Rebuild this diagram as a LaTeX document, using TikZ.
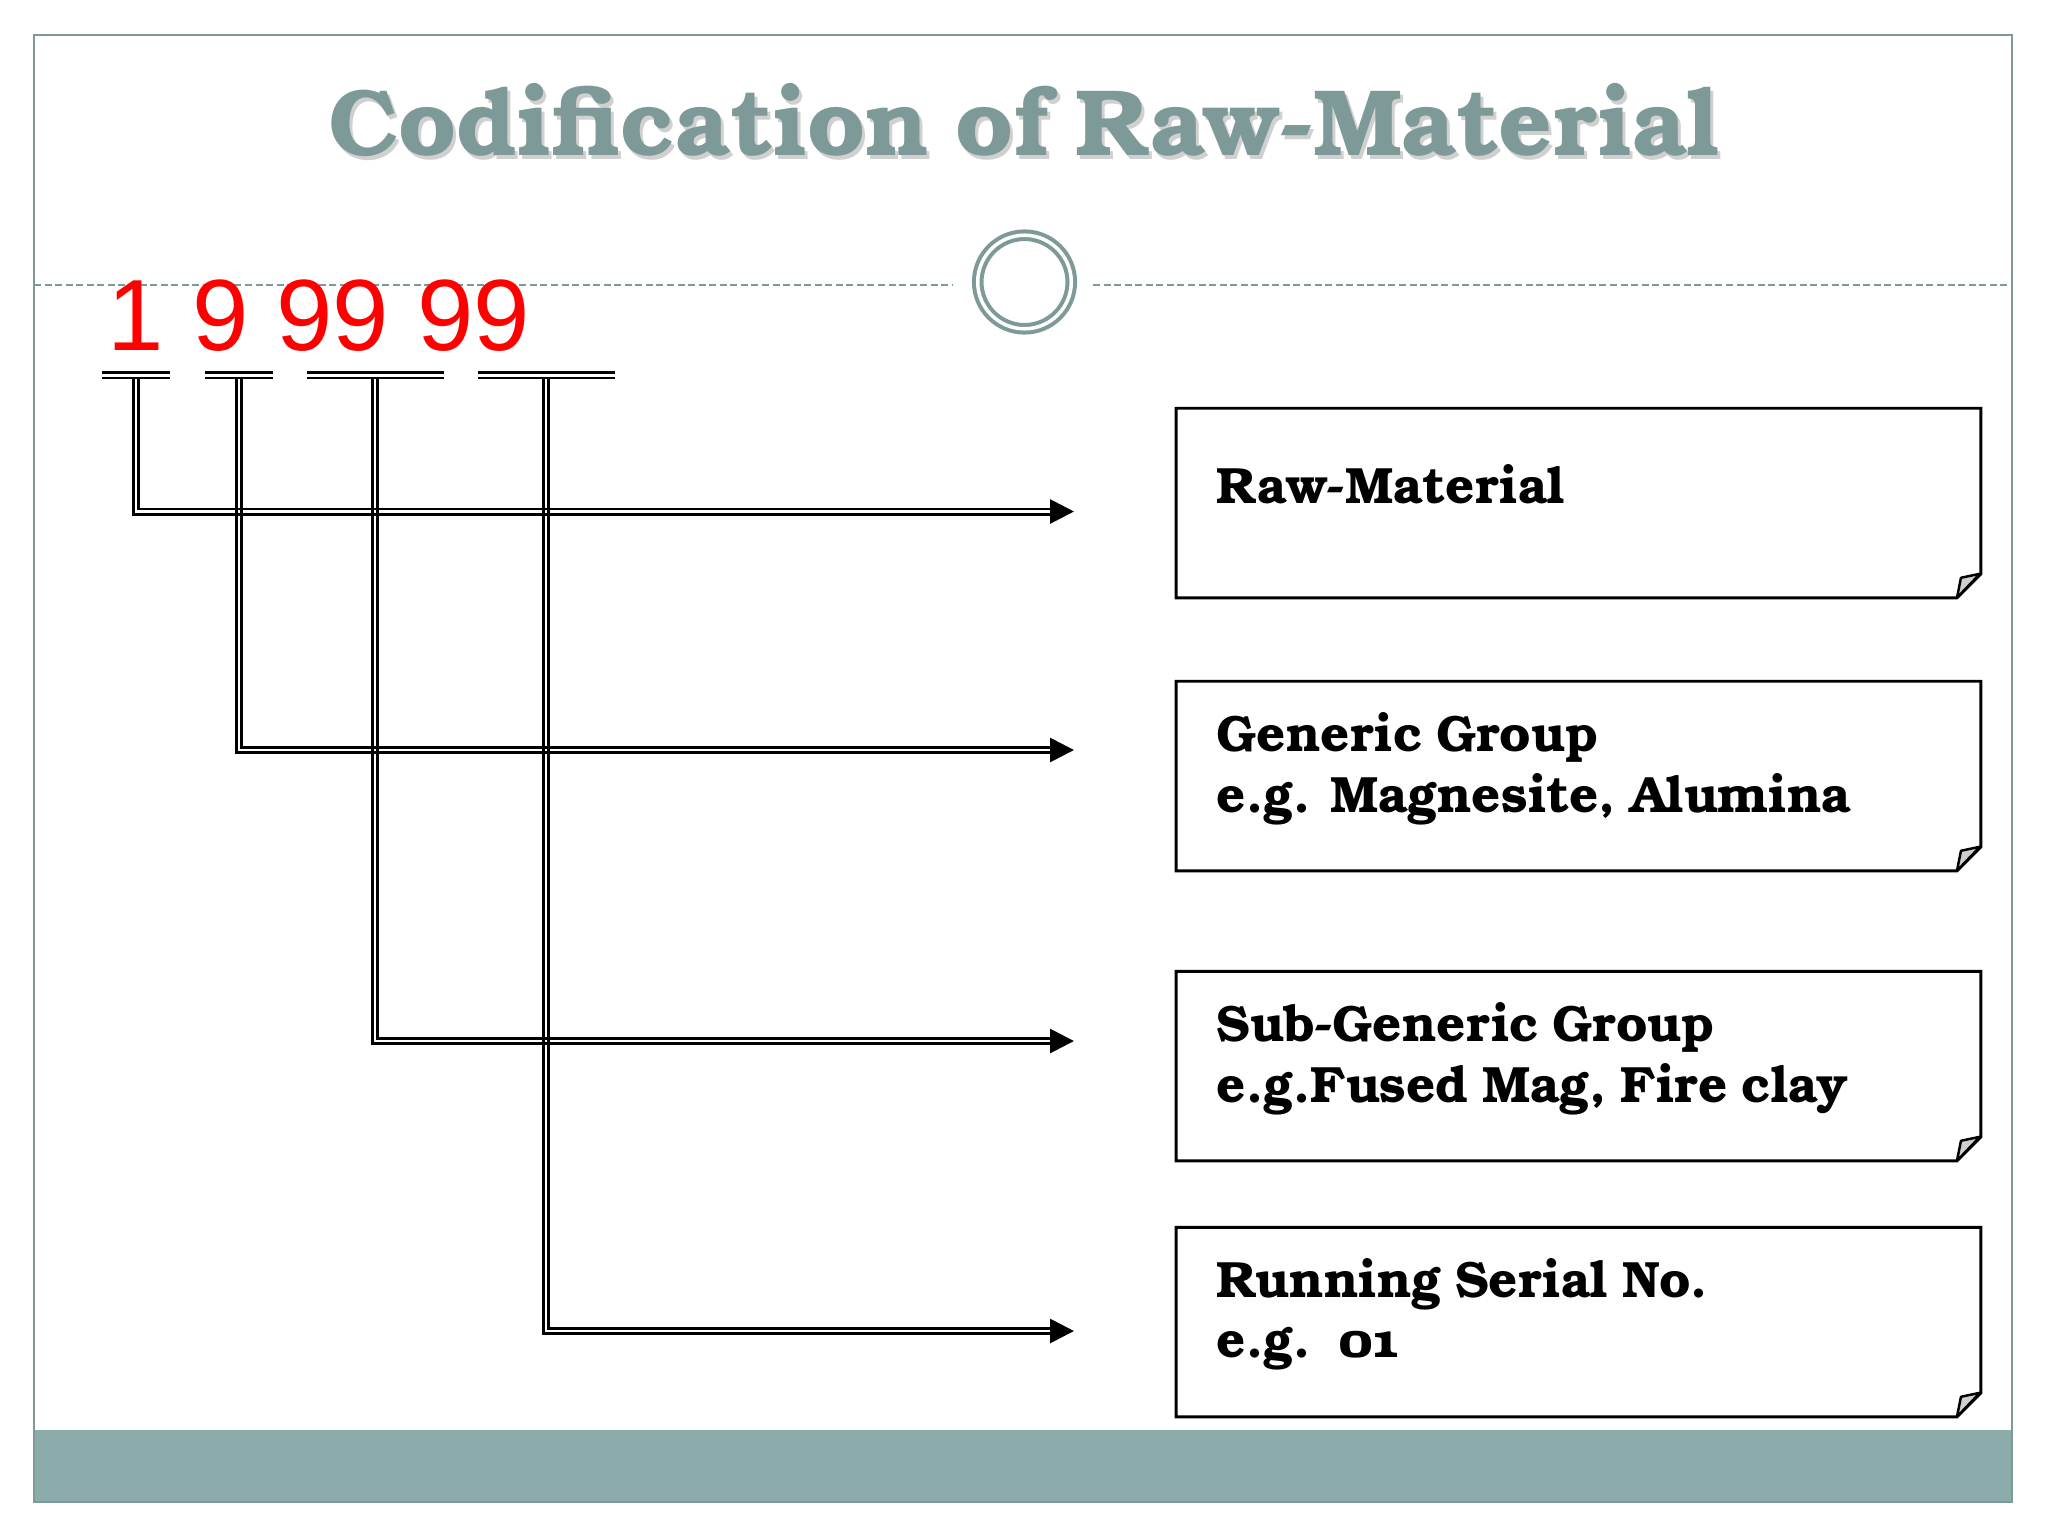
\documentclass[tikz,border=0pt]{standalone}
\usepackage{fontspec}
\setmainfont{Liberation Sans}
\newfontfamily\bookfont{TeX Gyre Bonum}[Numbers=OldStyle,WordSpace=0.8]
\usetikzlibrary{calc}
\usetikzlibrary{shapes,arrows.meta}

\definecolor{slate}{HTML}{7D9A98}
\definecolor{slatebar}{HTML}{8CACAC}
\definecolor{foldgray}{HTML}{CFCFCF}

\begin{document}
\begin{tikzpicture}[x=0.01cm,y=-0.01cm,
    rail/.style={line width=0.8pt},
    head/.style={line width=0.8pt,-{Triangle[length=6.8pt,width=6.8pt]}},
    box/.style={minimum width=8.03cm,minimum height=1.88cm,inner sep=0pt},
    outline/.style={line width=0.85pt,line join=miter},
    fold/.style={fill=foldgray,draw=black,line width=0.7pt,line join=round},
    lbl/.style={anchor=base west,inner sep=0pt,font=\bookfont\bfseries\fontsize{14.5pt}{17pt}\selectfont}]

    \useasboundingbox (0,0) rectangle (2048,1536);
    \fill[white] (0,0) rectangle (2048,1536);

    % slide frame and footer band
    \fill[slatebar] (34,1430) rectangle (2012,1502);
    \draw[slate,line width=0.7pt] (34,35) rectangle (2012,1502);

    % title
    \node[anchor=base,inner sep=0pt,gray!60,opacity=0.6,
          font=\bookfont\bfseries\fontsize{26.8pt}{30pt}\selectfont] (tshadow) at (1027,159) {Codification of Raw-Material};
    \node[anchor=base,inner sep=0pt,slate,
          font=\bookfont\bfseries\fontsize{26.8pt}{30pt}\selectfont] (title) at (1024,155) {Codification of Raw-Material};

    % ring on the dashed rule
    \node[circle,draw=slate,line width=1.15pt,double=white,double distance=1pt,
          minimum size=0.935cm,inner sep=0pt] (ring) at (1024.5,282) {};
    \coordinate (R0) at (34,285);
    \coordinate (R1) at (953,285);
    \coordinate (R2) at (1093,285);
    \coordinate (R3) at (2012,285);
    \draw[slate,line width=0.7pt,dash pattern=on 2pt off 1pt] (R0) -- (R1);
    \draw[slate,line width=0.7pt,dash pattern=on 2pt off 1pt] (R2) -- (R3);

    % the code
    \node[anchor=base west,inner sep=0pt,red,font=\fontsize{28.8pt}{31pt}\selectfont] (code) at (107,350) {1 9 99 99};

    \draw[rail] (102,372.7) -- (170,372.7);
    \draw[rail] (102,378) -- (170,378);
    \draw[rail] (205,372.7) -- (273,372.7);
    \draw[rail] (205,378) -- (273,378);
    \draw[rail] (307,372.7) -- (444,372.7);
    \draw[rail] (307,378) -- (444,378);
    \draw[rail] (478,372.7) -- (615,372.7);
    \draw[rail] (478,378) -- (615,378);

    \coordinate (U1) at (136,378);
    \coordinate (U2) at (239,378);
    \coordinate (U3) at (375,378);
    \coordinate (U4) at (546,378);

    \coordinate (H1) at (1052,511.5);
    \coordinate (H2) at (1052,750);
    \coordinate (H3) at (1052,1041);
    \coordinate (H4) at (1052,1331);

    \coordinate (T1) at (1074,511.5);
    \coordinate (T2) at (1074,750);
    \coordinate (T3) at (1074,1041);
    \coordinate (T4) at (1074,1331);

    % boxes
    \node[box] (B1) at (1578.5,503) {};
    \node[box] (B2) at (1578.5,776) {};
    \node[box] (B3) at (1578.5,1066) {};
    \node[box] (B4) at (1578.5,1322) {};

    \draw[outline] (B1.south west) -- (B1.north west) -- (B1.north east) -- ($(B1.south east)+(0,-24)$) -- ($(B1.south east)+(-24,0)$) -- cycle;
    \draw[outline] (B2.south west) -- (B2.north west) -- (B2.north east) -- ($(B2.south east)+(0,-24)$) -- ($(B2.south east)+(-24,0)$) -- cycle;
    \draw[outline] (B3.south west) -- (B3.north west) -- (B3.north east) -- ($(B3.south east)+(0,-24)$) -- ($(B3.south east)+(-24,0)$) -- cycle;
    \draw[outline] (B4.south west) -- (B4.north west) -- (B4.north east) -- ($(B4.south east)+(0,-24)$) -- ($(B4.south east)+(-24,0)$) -- cycle;

    \filldraw[fold] ($(B1.south east)+(-1,-24)$) -- ($(B1.south east)+(-20,-20)$) -- ($(B1.south east)+(-24,0)$) -- cycle;
    \filldraw[fold] ($(B2.south east)+(-1,-24)$) -- ($(B2.south east)+(-20,-20)$) -- ($(B2.south east)+(-24,0)$) -- cycle;
    \filldraw[fold] ($(B3.south east)+(-1,-24)$) -- ($(B3.south east)+(-20,-20)$) -- ($(B3.south east)+(-24,0)$) -- cycle;
    \filldraw[fold] ($(B4.south east)+(-1,-24)$) -- ($(B4.south east)+(-20,-20)$) -- ($(B4.south east)+(-24,0)$) -- cycle;

    \node[lbl] (L1) at (1216,503) {Raw-Material};
    \node[lbl] (L2) at (1216,751) {Generic Group};
    \node[lbl] (L2e) at (1216,812) {e.g. Magnesite, Alumina};
    \node[lbl] (L3) at (1216,1041) {Sub-Generic Group};
    \node[lbl] (L3e) at (1216,1102) {e.g.Fused Mag, Fire clay};
    \node[lbl] (L4) at (1216,1297) {Running Serial No.};
    \node[lbl] (L4e) at (1216,1357) {e.g.\ \ 01};

    % double connectors
    \draw[rail] ($(U1)+(-2.6,0)$) |- ($(H1)+(0,2.6)$);
    \draw[rail] ($(U1)+(2.6,0)$) |- ($(H1)+(0,-2.6)$);
    \draw[rail] ($(U2)+(-2.6,0)$) |- ($(H2)+(0,2.6)$);
    \draw[rail] ($(U2)+(2.6,0)$) |- ($(H2)+(0,-2.6)$);
    \draw[rail] ($(U3)+(-2.6,0)$) |- ($(H3)+(0,2.6)$);
    \draw[rail] ($(U3)+(2.6,0)$) |- ($(H3)+(0,-2.6)$);
    \draw[rail] ($(U4)+(-2.6,0)$) |- ($(H4)+(0,2.6)$);
    \draw[rail] ($(U4)+(2.6,0)$) |- ($(H4)+(0,-2.6)$);

    \draw[head] (H1) -- (T1);
    \draw[head] (H2) -- (T2);
    \draw[head] (H3) -- (T3);
    \draw[head] (H4) -- (T4);
\end{tikzpicture}
\end{document}
